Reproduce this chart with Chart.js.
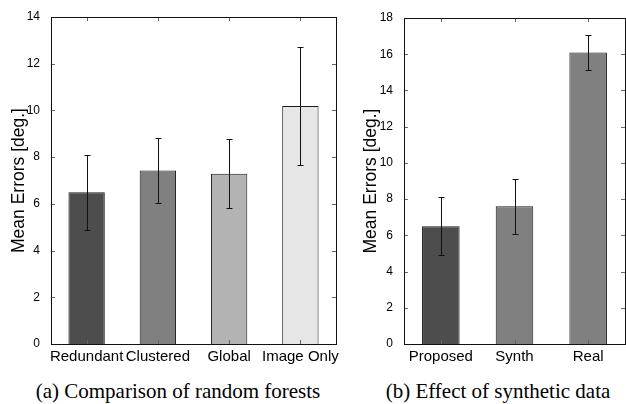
<!DOCTYPE html>
<html>
<head>
<meta charset="utf-8">
<script src="https://cdn.jsdelivr.net/npm/chart.js@4.4.0/dist/chart.umd.min.js"></script>
<style>
  body { margin: 0; background: #fff; }
  #wrap { position: relative; width: 626px; height: 404px; overflow: hidden; }
  .box { position: absolute; top: 0; height: 370px; }
  .cap { position: absolute; top: 381px; font-family: "Liberation Serif", "Times New Roman", serif; font-size: 21px; line-height: 21px; color: #000; white-space: nowrap; transform: translateX(-50%); }
</style>
</head>
<body>
<div id="wrap">
  <div class="box" style="left:0;width:345px"><canvas id="chartA"></canvas></div>
  <div class="box" style="left:345px;width:281px"><canvas id="chartB"></canvas></div>
  <div class="cap" style="left:178px">(a) Comparison of random forests</div>
  <div class="cap" style="left:498px">(b) Effect of synthetic data</div>
</div>
<script>
'use strict';

// (a) random forests
let forestNames = ['Redundant', 'Clustered', 'Global', 'Image Only'];
let forestMeans = [6.5, 7.43, 7.29, 10.19];
let forestErrs = [1.6, 1.38, 1.48, 2.52];
let forestColors = ['#4d4d4d', '#808080', '#b3b3b3', '#e6e6e6'];
let forestTicks = [0, 2, 4, 6, 8, 10, 12, 14];

// (b) synthetic data
let dataNames = ['Proposed', 'Synth', 'Real'];
let dataMeans = [6.5, 7.6, 16.1];
let dataErrs = [1.6, 1.52, 0.98];
let dataColors = ['#4d4d4d', '#808080', '#808080'];
let dataTicks = [0, 2, 4, 6, 8, 10, 12, 14, 16, 18];

let sansFont = '"Liberation Sans", Arial, sans-serif';

// frame + inward tick marks on all four sides
let framePlugin = {
  id: 'frame',
  afterDraw(chart) {
    let ctx = chart.ctx;
    let a = chart.chartArea;
    let xs = chart.scales.x;
    let ys = chart.scales.y;
    ctx.save();
    ctx.strokeStyle = '#666';
    ctx.lineWidth = 1;
    ctx.beginPath();
    ys.ticks.forEach(t => {
      let y = Math.round(ys.getPixelForValue(t.value)) + 0.5;
      ctx.moveTo(a.left, y); ctx.lineTo(a.left + 4, y);
      ctx.moveTo(a.right, y); ctx.lineTo(a.right - 4, y);
    });
    xs.ticks.forEach((t, i) => {
      let x = Math.round(xs.getPixelForValue(i)) + 0.5;
      ctx.moveTo(x, a.top); ctx.lineTo(x, a.top + 4);
      ctx.moveTo(x, a.bottom); ctx.lineTo(x, a.bottom - 4);
    });
    ctx.stroke();
    ctx.strokeStyle = '#111';
    ctx.strokeRect(Math.round(a.left) + 0.5, Math.round(a.top) + 0.5,
      Math.round(a.right - a.left), Math.round(a.bottom - a.top));
    ctx.restore();
  }
};

// error bars from the dataset's errs array
let errorPlugin = {
  id: 'errbars',
  afterDatasetsDraw(chart) {
    let ctx = chart.ctx;
    let ds = chart.data.datasets[0];
    let ys = chart.scales.y;
    let meta = chart.getDatasetMeta(0);
    ctx.save();
    ctx.strokeStyle = '#111';
    ctx.lineWidth = 1;
    meta.data.forEach((bar, i) => {
      let x = Math.round(bar.x) + 0.5;
      let hi = Math.round(ys.getPixelForValue(ds.data[i] + ds.errs[i])) + 0.5;
      let lo = Math.round(ys.getPixelForValue(ds.data[i] - ds.errs[i])) + 0.5;
      ctx.beginPath();
      ctx.moveTo(x, hi); ctx.lineTo(x, lo);
      ctx.moveTo(x - 3, hi); ctx.lineTo(x + 3, hi);
      ctx.moveTo(x - 3, lo); ctx.lineTo(x + 3, lo);
      ctx.stroke();
    });
    ctx.restore();
  }
};

function makeChart(id, names, means, errs, colors, ticks, yMax, yWidth, titlePad, pad) {
  return new Chart(document.getElementById(id), {
    type: 'bar',
    data: {
      labels: names,
      datasets: [{
        data: means,
        errs: errs,
        backgroundColor: colors,
        borderColor: '#1a1a1a',
        borderWidth: 1,
        barPercentage: 0.51,
        categoryPercentage: 1
      }]
    },
    options: {
      responsive: true,
      maintainAspectRatio: false,
      animation: false,
      layout: { padding: pad },
      plugins: { legend: { display: false }, tooltip: { enabled: false } },
      scales: {
        x: {
          grid: { display: false },
          border: { display: false },
          ticks: { color: '#000', font: { family: sansFont, size: 15 }, padding: -4, maxRotation: 0, autoSkip: false },
          afterFit(scale) { scale.height = 26; }
        },
        y: {
          min: 0,
          max: yMax,
          afterBuildTicks(scale) { scale.ticks = ticks.map(v => ({ value: v })); },
          grid: { display: false },
          border: { display: false },
          ticks: { color: '#000', font: { family: sansFont, size: 12 }, padding: 3 },
          title: {
            display: true,
            text: 'Mean Errors [deg.]',
            color: '#000',
            font: { family: sansFont, size: 17.5 },
            padding: { top: titlePad, bottom: 0 }
          },
          afterFit(scale) { scale.width = yWidth; }
        }
      }
    },
    plugins: [framePlugin, errorPlugin]
  });
}

makeChart('chartA', forestNames, forestMeans, forestErrs, forestColors, forestTicks, 14, 51, 9, { top: 17, right: 9 });
makeChart('chartB', dataNames, dataMeans, dataErrs, dataColors, dataTicks, 18, 59, 16, { top: 18, right: 1 });
</script>
</body>
</html>
